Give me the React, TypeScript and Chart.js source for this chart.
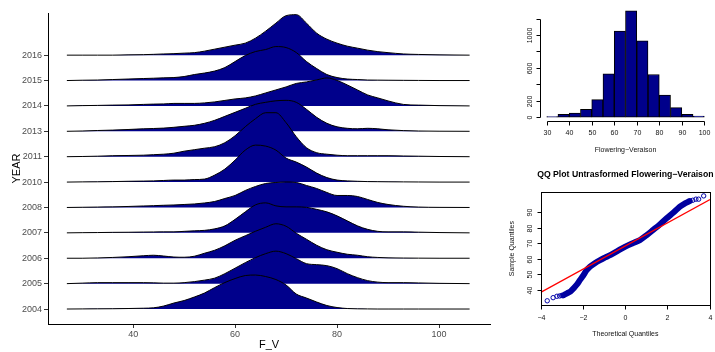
import React, { useEffect, useRef } from 'react';
import { Chart, registerables } from 'chart.js';

Chart.register(...registerables);

const FONT = '"Liberation Sans", Arial, Helvetica, sans-serif';
const DARKBLUE = '#00008B';

// ---------- Ridgeline data (left panel) ----------
const years = ['2004', '2005', '2006', '2007', '2008', '2010', '2011', '2013', '2014', '2015', '2016'];
const gridFV = [27, 30, 33, 36, 39, 42, 44, 46, 48, 50, 52, 54, 56, 58, 60, 62, 64, 66, 68, 70, 72, 74, 76, 78, 80, 82, 84, 86, 88, 90, 93, 96, 100, 106];
// scaled density heights (25.4 units = one row)
const ridge2004 = [0, 0.1, 0.2, 0.3, 0.5, 0.8, 1.2, 3, 6, 8.5, 12, 16, 21.5, 26.5, 30.5, 33.5, 34, 32.5, 29.5, 24, 15, 11, 7, 3.5, 1.5, 0.5, 0.2, 0.1, 0, 0, 0, 0, 0, 0];
const ridge2005 = [0, 0.5, 1, 1, 1, 1, 0.8, 0.5, 0.5, 1, 2, 3.5, 5.5, 10, 15.5, 21, 26, 30, 32.5, 30, 25, 20, 19, 18, 15, 10, 6, 3, 1.5, 1, 1, 0.7, 0.3, 0];
const ridge2006 = [0, 0, 0.3, 0.8, 1.5, 2.5, 3, 2.2, 1.2, 1, 2, 5, 8, 12.5, 18, 22.5, 27, 31, 34.5, 32, 25, 19, 13, 8.5, 6, 4, 3, 1.5, 0.8, 0.4, 0.2, 0.1, 0, 0];
const ridge2007 = [0, 0.2, 0.3, 0.5, 0.6, 0.8, 0.9, 1, 1, 1.5, 2, 2.5, 4, 7, 13.5, 21, 28, 30, 27, 26, 26, 25.5, 23.5, 21, 17, 12, 7, 3.5, 1.5, 1, 1, 0.7, 0.3, 0];
const ridge2008 = [0, 0.2, 0.4, 0.6, 1, 1.5, 1.8, 2.2, 2.5, 3, 3.5, 4.5, 6, 9, 12, 17, 21, 24, 25, 25.5, 25, 22, 19, 15, 12, 12, 11, 8, 5, 3, 1.2, 0.4, 0.1, 0];
const ridge2010 = [0, 0.2, 0.3, 0.5, 0.8, 1, 1.2, 1.6, 2, 2, 2.5, 3, 7, 13, 22, 32, 37, 36, 32, 24, 20, 15, 9, 4.5, 2, 1.2, 0.8, 0.5, 0.4, 0.3, 0.2, 0.1, 0, 0];
const ridge2011 = [0, 0.2, 0.5, 1, 1.2, 1.5, 2, 2.5, 3.5, 5.5, 7, 8.5, 10, 14, 21, 30, 38, 44, 44, 34, 20, 9, 4, 2.5, 1.5, 1, 1, 1, 1, 1, 0.7, 0.5, 0.2, 0];
const ridge2013 = [0, 0.3, 0.8, 1.2, 1.8, 2.5, 2.8, 3.2, 4, 5, 6, 8, 11, 15, 19, 23, 27, 29, 30.5, 31, 29, 22, 14, 8, 4.5, 3, 2.5, 3, 2.5, 1.5, 0.7, 0.3, 0.1, 0];
const ridge2014 = [0, 0.3, 0.5, 0.8, 1, 1.5, 1.8, 2, 2.5, 2.5, 2.5, 3, 4, 5.5, 7, 8, 10, 13, 16, 19, 22.5, 24, 26, 28, 25.5, 21, 16, 11, 8, 5, 1.5, 0.8, 0.3, 0];
const ridge2015 = [0, 0.3, 0.5, 1, 1.5, 2, 2.3, 2.7, 3, 4, 6, 7.5, 9.5, 13, 19, 25, 29, 31, 34, 33, 28, 19, 12, 6, 3, 1.5, 1, 0.5, 0.4, 0.3, 0.2, 0.1, 0, 0];
const ridge2016 = [0, 0, 0, 0, 0.3, 0.5, 0.8, 1.2, 1.5, 2, 2.5, 4, 6, 8, 10, 12, 17, 24, 32, 39.5, 40.5, 32, 22, 16, 12, 9, 7, 5, 3.5, 2.5, 1.2, 0.7, 0.3, 0];
const ridgeHeights = [ridge2004, ridge2005, ridge2006, ridge2007, ridge2008, ridge2010, ridge2011, ridge2013, ridge2014, ridge2015, ridge2016];
const RIDGE_UNIT = 25.4;
const ridgeXTicks = [40, 60, 80, 100];

// ---------- Histogram (top right) ----------
const histBreaks = [30, 35, 40, 45, 50, 55, 60, 65, 70, 75, 80, 85, 90, 95, 100];
const histCounts = [5, 33, 49, 94, 212, 527, 1049, 1294, 930, 518, 269, 114, 33, 12];
const histXTicks = [30, 40, 50, 60, 70, 80, 90, 100];
const histYTicks = [0, 200, 400, 600, 800, 1000, 1200];
const histYLabels = ['0', '200', '', '600', '', '1000', ''];

// ---------- QQ plot (bottom right) ----------
const qqTheoretical = [-2.95, -2.77, -2.6, -2.45, -2.3, -2.15, -2.0, -1.85, -1.67, -1.45, -1.2, -0.95, -0.72, -0.4, 0, 0.35, 0.69, 1.0, 1.32, 1.65, 1.96, 2.3, 2.59, 2.85, 3.06];
const qqSample = [36.6, 37.9, 39.2, 41.2, 43.5, 46.5, 49.3, 52.5, 55.0, 57.2, 59.2, 60.9, 62.4, 64.8, 67.8, 70.0, 72.0, 75.0, 78.5, 82.2, 86.0, 89.8, 93.4, 95.6, 97.0];
const qqTailX = [-3.71, -3.43, -3.25, -3.12, -3.02, 3.2, 3.35, 3.48, 3.72];
const qqTailY = [33.1, 35.1, 36.0, 36.2, 36.5, 97.5, 98.2, 98.2, 100.3];
const qqLineX = [-4.02, 4.02];
const qqLineY = [38.5, 97.9];
const qqXTicks = [-4, -2, 0, 2, 4];
const qqXLabels = ['\u22124', '\u22122', '0', '2', '4'];
const qqYTicks = [40, 50, 60, 70, 80, 90];
const qqYLabels = ['40', '50', '60', '70', '80', '90'];

// R base-graphics style axes drawn from the chart's own scales
const rAxes = {
  id: 'rAxes',
  afterDatasetsDraw(chart: any, _a: any, o: any) {
    if (!o || !o.enabled) return;
    const { ctx, chartArea: ca, scales } = chart;
    const xs = scales.x;
    const ys = scales.y;
    ctx.save();
    ctx.strokeStyle = '#000';
    ctx.fillStyle = '#111';
    ctx.lineWidth = 1;
    if (o.box) {
      ctx.strokeRect(Math.round(ca.left) + 0.5, Math.round(ca.top) + 0.5, Math.round(ca.right - ca.left), Math.round(ca.bottom - ca.top));
    }
    const f = (s: number, b?: boolean) => `${b ? 'bold ' : ''}${s}px ${FONT}`;
    // x axis
    const yAx = Math.round(ca.bottom + o.xAxisOffset) + 0.5;
    const xp = o.xTicks.map((v: number) => Math.round(xs.getPixelForValue(v)) + 0.5);
    ctx.beginPath();
    ctx.moveTo(xp[0], yAx);
    ctx.lineTo(xp[xp.length - 1], yAx);
    xp.forEach((p: number) => { ctx.moveTo(p, yAx); ctx.lineTo(p, yAx + o.tick); });
    ctx.stroke();
    ctx.font = f(o.fontSize);
    ctx.textAlign = 'center';
    ctx.textBaseline = 'middle';
    o.xLabels.forEach((t: string, i: number) => ctx.fillText(t, xp[i], yAx + o.xLabelGap));
    if (o.xTitle) ctx.fillText(o.xTitle, (ca.left + ca.right) / 2, yAx + o.xTitleGap);
    // y axis
    const xAx = Math.round(ca.left - o.yAxisOffset) + 0.5;
    const yp = o.yTicks.map((v: number) => Math.round(ys.getPixelForValue(v)) + 0.5);
    ctx.beginPath();
    ctx.moveTo(xAx, yp[0]);
    ctx.lineTo(xAx, yp[yp.length - 1]);
    yp.forEach((p: number) => { ctx.moveTo(xAx, p); ctx.lineTo(xAx - o.tick, p); });
    ctx.stroke();
    o.yLabels.forEach((t: string, i: number) => {
      if (!t) return;
      ctx.save();
      ctx.translate(xAx - o.yLabelGap, yp[i]);
      ctx.rotate(-Math.PI / 2);
      ctx.fillText(t, 0, 0);
      ctx.restore();
    });
    if (o.yTitle) {
      ctx.save();
      ctx.translate(xAx - o.yTitleGap, (ca.top + ca.bottom) / 2);
      ctx.rotate(-Math.PI / 2);
      ctx.fillText(o.yTitle, 0, 0);
      ctx.restore();
    }
    if (o.title) {
      ctx.fillStyle = '#000';
      ctx.font = f(o.titleSize, true);
      ctx.fillText(o.title, (ca.left + ca.right) / 2, ca.top - o.titleGap);
    }
    ctx.restore();
  },
};

function RidgeChart() {
  const ref = useRef<HTMLCanvasElement>(null);
  useEffect(() => {
    const chart = new Chart(ref.current as HTMLCanvasElement, {
      type: 'line',
      data: {
        datasets: years.map((yr, i) => ({
          label: yr,
          data: gridFV.map((v, k) => ({ x: v, y: i + ridgeHeights[i][k] / RIDGE_UNIT })),
          fill: { value: i },
          backgroundColor: DARKBLUE,
          borderColor: '#000',
          borderWidth: 1,
          pointRadius: 0,
          cubicInterpolationMode: 'monotone' as const,
        })),
      },
      options: {
        animation: false,
        responsive: false,
        events: [],
        layout: { padding: { left: 0, right: 10, top: 13, bottom: 0 } },
        plugins: { legend: { display: false }, tooltip: { enabled: false } },
        scales: {
          x: {
            type: 'linear',
            min: 23.3,
            max: 110,
            afterBuildTicks: (s: any) => { s.ticks = ridgeXTicks.map((v) => ({ value: v })); },
            afterFit: (s: any) => { s.height = 28; },
            grid: { display: true, drawOnChartArea: false, drawTicks: true, tickLength: 4, color: '#333' },
            border: { display: true, color: '#000', width: 1 },
            ticks: { color: '#4D4D4D', font: { family: FONT, size: 9 }, padding: 1, maxRotation: 0 },
            title: { display: true, text: 'F_V', color: '#000', font: { family: FONT, size: 11 }, padding: { top: 0, bottom: 0 } },
          },
          y: {
            type: 'linear',
            min: -0.59,
            max: 11.66,
            afterBuildTicks: (s: any) => { s.ticks = years.map((_, i) => ({ value: i })); },
            afterFit: (s: any) => { s.width = 48; },
            grid: { display: true, drawOnChartArea: false, drawTicks: true, tickLength: 4, color: '#333' },
            border: { display: true, color: '#000', width: 1 },
            ticks: { color: '#4D4D4D', font: { family: FONT, size: 9 }, padding: 2, callback: (v: any) => years[v] },
            title: { display: true, text: 'YEAR', color: '#000', font: { family: FONT, size: 11 }, padding: { top: 10, bottom: 0 } },
          },
        },
      },
    } as any);
    return () => chart.destroy();
  }, []);
  return <canvas ref={ref} width={500} height={352} style={{ position: 'absolute', left: 0, top: 0, width: 500, height: 352 }} />;
}

function HistChart() {
  const ref = useRef<HTMLCanvasElement>(null);
  useEffect(() => {
    const chart = new Chart(ref.current as HTMLCanvasElement, {
      type: 'bar',
      data: {
        datasets: [{
          data: histCounts.map((c, i) => ({ x: (histBreaks[i] + histBreaks[i + 1]) / 2, y: c })),
          backgroundColor: DARKBLUE,
          borderColor: '#000',
          borderWidth: 1,
          borderSkipped: false,
          barPercentage: 1,
          categoryPercentage: 1,
        }],
      },
      options: {
        animation: false,
        responsive: false,
        events: [],
        layout: { padding: { left: 40.4, right: 4.4, top: 6.6, bottom: 38.7 } },
        plugins: {
          legend: { display: false },
          tooltip: { enabled: false },
          rAxes: {
            enabled: true, box: false, fontSize: 7, tick: 4,
            xAxisOffset: 0, xTicks: histXTicks, xLabels: histXTicks.map(String), xLabelGap: 11.5, xTitle: 'Flowering\u2212Veraison', xTitleGap: 28.5,
            yAxisOffset: 0, yTicks: histYTicks, yLabels: histYLabels, yLabelGap: 10.5,
          },
        },
        scales: {
          x: { type: 'linear', min: 27.2, max: 102.8, display: false, offset: false, grid: { offset: false } },
          y: { type: 'linear', min: -51.8, max: 1345.8, display: false },
        },
      },
      plugins: [rAxes],
    } as any);
    return () => chart.destroy();
  }, []);
  return <canvas ref={ref} width={215} height={160} style={{ position: 'absolute', left: 500, top: 0, width: 215, height: 160 }} />;
}

function QQChart() {
  const ref = useRef<HTMLCanvasElement>(null);
  useEffect(() => {
    const chart = new Chart(ref.current as HTMLCanvasElement, {
      type: 'scatter',
      data: {
        datasets: [
          {
            data: qqLineX.map((x, i) => ({ x, y: qqLineY[i] })),
            showLine: true, borderColor: '#FF0000', borderWidth: 1.2, pointRadius: 0,
          },
          {
            data: qqTailX.map((x, i) => ({ x, y: qqTailY[i] })),
            showLine: false, pointRadius: 2.2, pointBorderWidth: 1,
            pointBorderColor: '#0000A8', pointBackgroundColor: 'rgba(0,0,0,0)',
          },
          {
            data: qqTheoretical.map((x, i) => ({ x, y: qqSample[i] })),
            showLine: true, borderColor: '#0000A0', borderWidth: 6, pointRadius: 0,
            cubicInterpolationMode: 'monotone', borderCapStyle: 'round', borderJoinStyle: 'round',
          },
        ],
      },
      options: {
        animation: false,
        responsive: false,
        events: [],
        layout: { padding: { left: 40.7, right: 4.3, top: 32.3, bottom: 47 } },
        plugins: {
          legend: { display: false },
          tooltip: { enabled: false },
          rAxes: {
            enabled: true, box: true, fontSize: 7, tick: 4,
            xAxisOffset: 0, xTicks: qqXTicks, xLabels: qqXLabels, xLabelGap: 12.5, xTitle: 'Theoretical Quantiles', xTitleGap: 29,
            yAxisOffset: 0, yTicks: qqYTicks, yLabels: qqYLabels, yLabelGap: 11.5, yTitle: 'Sample Quantiles', yTitleGap: 29,
            title: 'QQ Plot Untrasformed Flowering\u2212Veraison', titleSize: 8.7, titleGap: 17.3,
          },
        },
        scales: {
          x: { type: 'linear', min: -4.02, max: 4.02, display: false },
          y: { type: 'linear', min: 30.4, max: 102.6, display: false },
        },
      },
      plugins: [rAxes],
    } as any);
    return () => chart.destroy();
  }, []);
  return <canvas ref={ref} width={215} height={192} style={{ position: 'absolute', left: 500, top: 160, width: 215, height: 192 }} />;
}

export default function App() {
  return (
    <div style={{ position: 'absolute', left: 0, top: 0, width: 715, height: 352, background: '#fff', overflow: 'hidden' }}>
      <RidgeChart />
      <HistChart />
      <QQChart />
    </div>
  );
}
